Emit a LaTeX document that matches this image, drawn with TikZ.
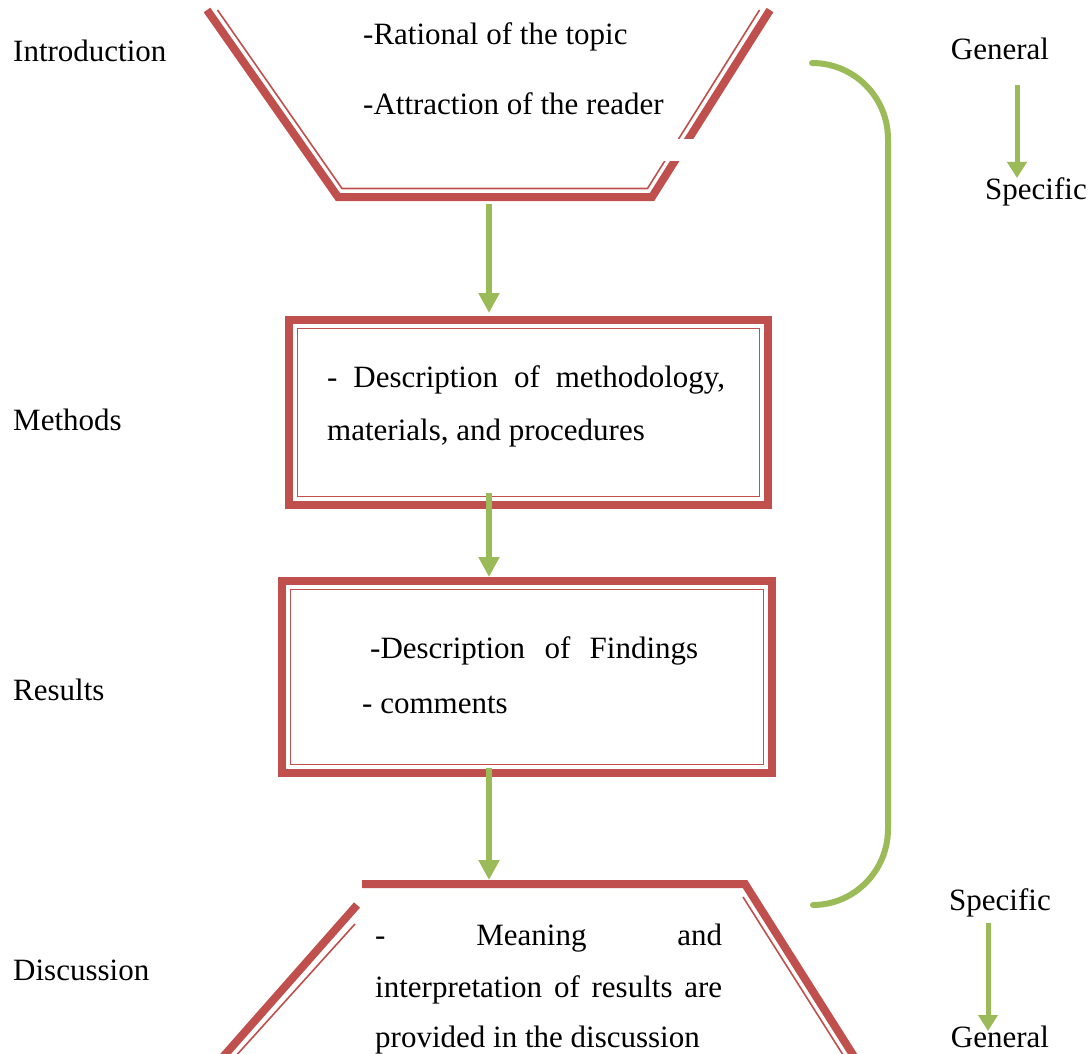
\documentclass[tikz,border=0pt]{standalone}
\usepackage{fontspec}
\setmainfont{Liberation Serif}
\usetikzlibrary{arrows.meta}
\definecolor{accred}{HTML}{C0504D}
\definecolor{accgreen}{HTML}{9BBB59}
\tikzset{
  outerline/.style={draw=accred, line width=8pt, line join=miter},
  innerline/.style={draw=accred, line width=1.6pt, line join=miter},
  framebox/.style={rectangle, draw=accred, line width=8pt, inner sep=0pt},
  flowarrow/.style={draw=accgreen, line width=6pt, -{Triangle[length=20pt,width=20pt]}},
  smallarrow/.style={draw=accgreen, line width=5pt, -{Triangle[length=16pt,width=19pt]}},
  brace/.style={draw=accgreen, line width=6pt, line cap=round},
  txt/.style={anchor=base west, inner sep=0pt, font=\fontsize{31}{37}\selectfont},
  ctxt/.style={anchor=base, inner sep=0pt, font=\fontsize{31}{37}\selectfont},
}
\begin{document}
\begin{tikzpicture}[x=1pt,y=-1pt]
\fill[white] (0,0) rectangle (1090,1054);
\useasboundingbox (0,0) rectangle (1090,1054);

% ---- Introduction trapezoid (top) ----
\draw[outerline] (207,10) -- (338,197) -- (652,197) -- (770,10);
\draw[innerline] (217.5,10) -- (342,188.5) -- (647.5,188.5) -- (759.5,10);
\fill[white] (655,139) rectangle (705,161);
\node[txt] (rational) at (363,45) {-Rational of the topic};
\node[txt] (attraction) at (363,115) {-Attraction of the reader};
\coordinate (introbot) at (489,204);

% ---- Methods box ----
\node[framebox, minimum width=479pt, minimum height=185pt] (methods) at (528.5,412.5) {};
\draw[innerline] (297.5,328.5) rectangle (759.5,496.5);
\node[txt] (m1) at (327,387) {\makebox[398pt][s]{- Description of methodology,}};
\node[txt] (m2) at (327,440) {materials, and procedures};

% ---- Results box ----
\node[framebox, minimum width=490pt, minimum height=192pt] (results) at (527,677) {};
\draw[innerline] (290.5,589.5) rectangle (763.5,764.5);
\node[txt] (r1) at (370,658) {\makebox[328pt][s]{-Description of Findings}};
\node[txt] (r2) at (362,713) {- comments};

% ---- Discussion trapezoid (bottom) ----
\coordinate (dtl) at (362,884);
\coordinate (dtr) at (745,884);
\draw[outerline] (dtl) -- (dtr) -- (855,1058);
\draw[outerline] (357,905) -- (222,1058);
\draw[innerline] (743,897) -- (845,1058);
\draw[innerline] (355,924) -- (234,1058);
\node[txt] (d1) at (375,945) {\makebox[347pt][s]{- Meaning and}};
\node[txt] (d2) at (375,997) {\makebox[347pt][s]{interpretation of results are}};
\node[txt] (d3) at (375,1047) {provided in the discussion};

% ---- flow arrows ----
\draw[flowarrow, shorten >=3pt] (introbot) -- (introbot |- methods.north);
\coordinate (a2s) at (489,493);
\draw[flowarrow] (a2s) -- (a2s |- results.north);
\coordinate (a3s) at (489,768);
\draw[flowarrow, shorten >=4pt] (a3s) -- (a3s |- dtl);

% ---- section labels ----
\node[txt] (lintro) at (13,62) {Introduction};
\node[txt] (lmethods) at (13,430) {Methods};
\node[txt] (lresults) at (13,700) {Results};
\node[txt] (ldisc) at (13,980) {Discussion};

% ---- green bracket ----
\coordinate (brtop) at (812,63);
\coordinate (brbot) at (813,905);
\draw[brace] (brtop) .. controls (854,63) and (888,97) .. (888,139) -- (888,829) .. controls (888,871) and (854,905) .. (brbot);

% ---- right side: general / specific ----
\node[ctxt] (g1) at (1000,60) {General};
\node[ctxt] (s1) at (1036,200) {Specific};
\coordinate (g1a) at (1017,85);
\draw[smallarrow] (g1a) -- (g1a |- s1.north);
\node[ctxt] (s2) at (1000,910) {Specific};
\node[ctxt] (g2) at (1000,1047) {General};
\coordinate (s2a) at (988,923);
\draw[smallarrow] (s2a) -- (988,1031);
\end{tikzpicture}
\end{document}
